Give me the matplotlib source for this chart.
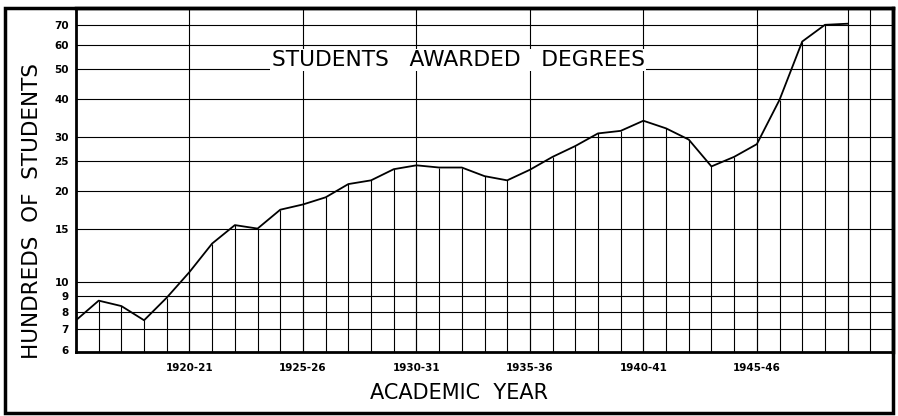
import matplotlib
matplotlib.use("Agg")
import matplotlib.pyplot as plt
from matplotlib.patches import Rectangle
from matplotlib.ticker import FixedLocator, NullLocator

# academic year given by its first calendar year (1915 -> 1915-16)
years = list(range(1915, 1950))
# hundreds of students awarded degrees
degrees = [7.5, 8.7, 8.35, 7.5, 8.9, 10.8, 13.4, 15.4, 15.0, 17.3,
           18.0, 19.0, 21.0, 21.6, 23.5, 24.2, 23.8, 23.8, 22.3, 21.6,
           23.4, 25.8, 28.0, 30.8, 31.4, 33.9, 32.0, 29.4, 24.0, 25.8,
           28.4, 39.7, 61.7, 70.0, 70.6]

y_ticks = [6, 7, 8, 9, 10, 15, 20, 25, 30, 40, 50, 60, 70]
x_ticks = [1920, 1925, 1930, 1935, 1940, 1945]
x_labels = ["1920-21", "1925-26", "1930-31", "1935-36", "1940-41", "1945-46"]
extra_grid_years = [1949, 1950]

W, H = 898, 416
fig = plt.figure(figsize=(W / 100, H / 100), dpi=100)
ax = fig.add_axes([76 / W, 64 / H, (893 - 76) / W, (352 - 8) / H])

ax.set_yscale("log")
ax.set_xlim(1915, 1951)
ax.set_ylim(5.9, 79.5)
ymin = ax.get_ylim()[0]

# horizontal rulings
for v in y_ticks[1:]:
    ax.axhline(v, color="black", lw=0.8, zorder=1)
# full-height year rulings
for yr in x_ticks + extra_grid_years:
    ax.axvline(yr, color="black", lw=0.8, zorder=1)
# drop lines from each plotted year
ax.vlines(years, ymin, degrees, color="black", lw=0.8, zorder=1)

ax.plot(years, degrees, color="black", lw=1.3, zorder=3)

ax.yaxis.set_major_locator(FixedLocator(y_ticks))
ax.yaxis.set_minor_locator(NullLocator())
ax.set_yticklabels([str(v) for v in y_ticks], fontsize=7.5, fontweight="bold")
ax.set_xticks(x_ticks)
ax.set_xticklabels(x_labels, fontsize=7.5, fontweight="bold")
ax.xaxis.set_minor_locator(NullLocator())
ax.tick_params(axis="y", length=0, pad=5)
ax.tick_params(axis="x", length=0, pad=8)

for side in ["left", "bottom"]:
    ax.spines[side].set_linewidth(2.0)
for side in ["top", "right"]:
    ax.spines[side].set_linewidth(2.5)

ax.text(0.4676, 0.849, "STUDENTS   AWARDED   DEGREES", transform=ax.transAxes,
        ha="center", va="center", fontsize=15.7, zorder=4,
        bbox=dict(facecolor="white", edgecolor="none", pad=1))

fig.text(32 / W, 1 - 211 / H, "HUNDREDS  OF  STUDENTS", rotation=90,
         ha="center", va="center", fontsize=15.5)
fig.text(459 / W, 1 - 393 / H, "ACADEMIC  YEAR", ha="center", va="center",
         fontsize=15)

fig.patches.append(Rectangle((5 / W, 3 / H), (893 - 5) / W, (413 - 8) / H,
                             transform=fig.transFigure, fill=False,
                             edgecolor="black", lw=2.5))

fig.savefig("out.png", dpi=100)
